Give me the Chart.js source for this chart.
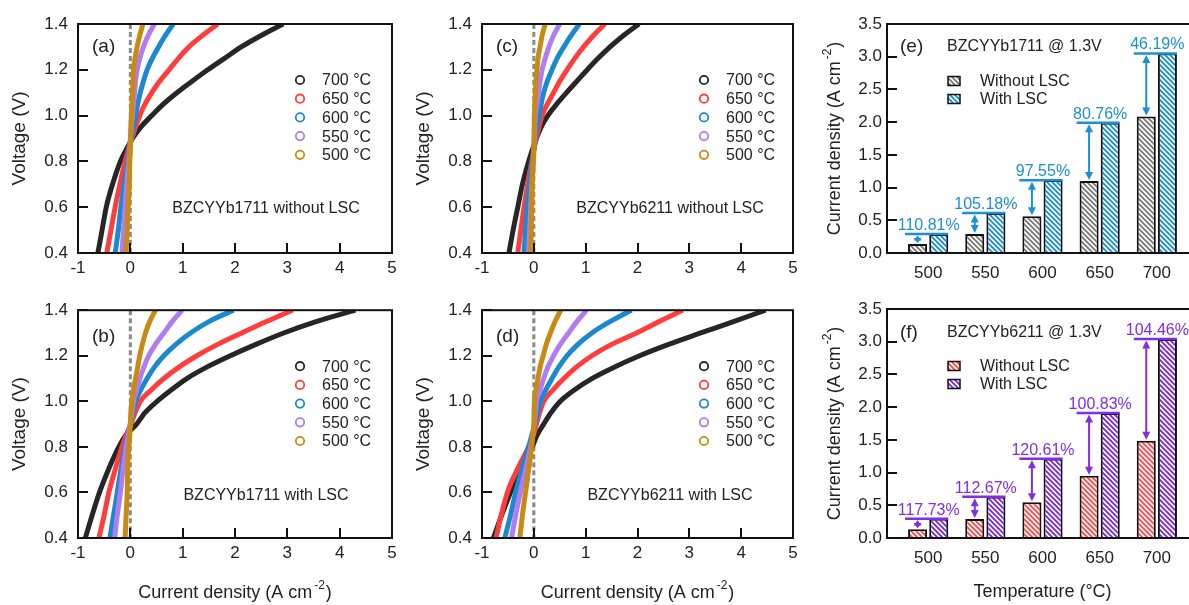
<!DOCTYPE html>
<html lang="en">
<head>
<meta charset="UTF-8">
<title>I-V curves and current density at 1.3 V</title>
<script src="https://cdn.jsdelivr.net/npm/chart.js"></script>
<style>
    body {
        margin: 0;
        width: 1189px;
        height: 605px;
        overflow: hidden;
        background: #fff;
        position: relative;
    }
    canvas {
        position: absolute;
    }
</style>
</head>
<body>

<canvas id="pa" width="404" height="290" style="left:0;top:0"></canvas>
<canvas id="pc" width="401" height="290" style="left:404px;top:0"></canvas>
<canvas id="pe" width="410" height="290" style="left:800px;top:0"></canvas>
<canvas id="pb" width="404" height="315" style="left:0;top:290px"></canvas>
<canvas id="pd" width="401" height="315" style="left:404px;top:290px"></canvas>
<canvas id="pf" width="410" height="315" style="left:800px;top:290px"></canvas>

<script>
// ---- data ----
const voltage = [0.4, 0.5, 0.6, 0.7, 0.8, 0.85, 0.9, 0.95, 1.0, 1.05, 1.1, 1.15, 1.2, 1.25, 1.3, 1.35, 1.4];
const tempLabels = ['700 °C', '650 °C', '600 °C', '550 °C', '500 °C'];
const ivXTicks = [-1, 0, 1, 2, 3, 4, 5];
const ivYTicks = [0.4, 0.6, 0.8, 1.0, 1.2, 1.4];

// (a) BZCYYb1711 without LSC, current density at each voltage
const a700 = [-0.62, -0.54, -0.46, -0.34, -0.19, -0.08, 0.04, 0.2, 0.41, 0.63, 0.89, 1.18, 1.48, 1.8, 2.12, 2.5, 2.92];
const a650 = [-0.45, -0.37, -0.29, -0.2, -0.1, -0.04, 0.03, 0.1, 0.18, 0.28, 0.41, 0.56, 0.74, 0.92, 1.12, 1.38, 1.67];
const a600 = [-0.29, -0.23, -0.18, -0.12, -0.05, -0.02, 0.02, 0.06, 0.1, 0.14, 0.19, 0.25, 0.32, 0.42, 0.54, 0.67, 0.82];
const a550 = [-0.16, -0.13, -0.1, -0.07, -0.03, -0.01, 0.0, 0.02, 0.04, 0.06, 0.08, 0.1, 0.13, 0.18, 0.25, 0.34, 0.46];
const a500 = [-0.08, -0.06, -0.04, -0.02, -0.01, 0.0, 0.005, 0.01, 0.02, 0.03, 0.04, 0.05, 0.06, 0.09, 0.13, 0.18, 0.24];

// (b) BZCYYb1711 with LSC
const b700 = [-0.86, -0.73, -0.59, -0.42, -0.22, -0.09, 0.12, 0.28, 0.51, 0.78, 1.08, 1.46, 1.91, 2.4, 2.93, 3.55, 4.3];
const b650 = [-0.6, -0.5, -0.41, -0.29, -0.16, -0.08, 0.01, 0.09, 0.19, 0.4, 0.64, 0.93, 1.27, 1.67, 2.13, 2.6, 3.1];
const b600 = [-0.39, -0.32, -0.25, -0.18, -0.1, -0.05, 0.0, 0.05, 0.1, 0.2, 0.32, 0.46, 0.64, 0.87, 1.15, 1.5, 1.97];
const b550 = [-0.3, -0.25, -0.19, -0.14, -0.08, -0.04, 0.0, 0.03, 0.06, 0.12, 0.18, 0.26, 0.35, 0.48, 0.64, 0.8, 0.99];
const b500 = [-0.1, -0.08, -0.06, -0.05, -0.03, -0.01, 0.0, 0.01, 0.03, 0.06, 0.1, 0.14, 0.18, 0.23, 0.29, 0.37, 0.48];

// (c) BZCYYb6211 without LSC
const c700 = [-0.48, -0.4, -0.31, -0.22, -0.1, -0.03, 0.05, 0.14, 0.27, 0.44, 0.63, 0.83, 1.03, 1.24, 1.47, 1.73, 2.03];
const c650 = [-0.31, -0.25, -0.19, -0.12, -0.04, 0.0, 0.05, 0.1, 0.16, 0.26, 0.38, 0.5, 0.64, 0.79, 0.96, 1.15, 1.37];
const c600 = [-0.19, -0.16, -0.13, -0.08, -0.03, 0.0, 0.03, 0.06, 0.1, 0.14, 0.19, 0.26, 0.35, 0.45, 0.58, 0.72, 0.88];
const c550 = [-0.1, -0.08, -0.06, -0.04, -0.01, 0.0, 0.01, 0.02, 0.03, 0.06, 0.09, 0.12, 0.16, 0.22, 0.29, 0.38, 0.5];
const c500 = [-0.06, -0.05, -0.04, -0.03, -0.01, 0.0, 0.003, 0.006, 0.01, 0.02, 0.03, 0.04, 0.06, 0.08, 0.12, 0.16, 0.22];

// (d) BZCYYb6211 with LSC
const d700 = [-0.78, -0.62, -0.45, -0.25, -0.03, 0.06, 0.19, 0.33, 0.51, 0.78, 1.12, 1.55, 2.04, 2.6, 3.22, 3.85, 4.47];
const d650 = [-0.73, -0.63, -0.51, -0.32, -0.1, -0.01, 0.05, 0.11, 0.19, 0.37, 0.58, 0.82, 1.12, 1.5, 1.98, 2.42, 2.87];
const d600 = [-0.56, -0.45, -0.35, -0.23, -0.1, -0.04, 0.02, 0.07, 0.13, 0.23, 0.35, 0.48, 0.64, 0.85, 1.12, 1.47, 1.88];
const d550 = [-0.43, -0.35, -0.26, -0.16, -0.06, -0.02, 0.01, 0.03, 0.05, 0.12, 0.19, 0.27, 0.38, 0.51, 0.67, 0.83, 1.02];
const d500 = [-0.27, -0.22, -0.16, -0.1, -0.04, -0.02, 0.0, 0.005, 0.01, 0.04, 0.08, 0.12, 0.18, 0.24, 0.32, 0.41, 0.52];

// (e)/(f) current density at 1.3 V
const temps = [500, 550, 600, 650, 700];
const barYTicks = [0, 0.5, 1.0, 1.5, 2.0, 2.5, 3.0, 3.5];
const eWithout = [0.138, 0.29, 0.56, 1.1, 2.086];
const eWith = [0.29, 0.61, 1.11, 1.99, 3.05];
const ePct = ['110.81%', '105.18%', '97.55%', '80.76%', '46.19%'];
const fWithout = [0.135, 0.29, 0.548, 0.951, 1.487];
const fWith = [0.295, 0.63, 1.21, 1.91, 3.04];
const fPct = ['117.73%', '112.67%', '120.61%', '100.83%', '104.46%'];

// ---- styling ----
const FONT = '"Liberation Sans", Arial, Helvetica, sans-serif';
Chart.defaults.font.family = FONT;
Chart.defaults.color = '#222';

const seriesColors = ['#262626', '#ff3d3d', '#1c88d0', '#b07cf0', '#c98a12'];

// diagonal hatch fill for bars
function hatch(color) {
    const s = 5;
    const c = document.createElement('canvas');
    c.width = s; c.height = s;
    const g = c.getContext('2d');
    g.fillStyle = '#fff';
    g.fillRect(0, 0, s, s);
    g.strokeStyle = color;
    g.lineWidth = 1.9;
    g.beginPath();
    for (const k of [-s, 0, s]) {
        g.moveTo(k - 1, -1);
        g.lineTo(k + s + 1, s + 1);
    }
    g.stroke();
    return g.createPattern(c, 'repeat');
}

// per-canvas extras drawn by the plugin
const decorations = {
    pa: { kind: 'iv', label: '(a)', labelY: 23, note: 'BZCYYb1711 without LSC' },
    pc: { kind: 'iv', label: '(c)', labelY: 23, note: 'BZCYYb6211 without LSC' },
    pb: { kind: 'iv', label: '(b)', labelY: 27, note: 'BZCYYb1711 with LSC', xTitle: true },
    pd: { kind: 'iv', label: '(d)', labelY: 27, note: 'BZCYYb6211 with LSC', xTitle: true },
    pe: { kind: 'bar', label: '(e)', note: 'BZCYYb1711 @ 1.3V', noteY: 23, pct: ePct, pctColor: '#1a8fd6',
          fills: [hatch('#7a7a7a'), hatch('#1a8fd6')] },
    pf: { kind: 'bar', label: '(f)', note: 'BZCYYb6211 @ 1.3V', noteY: 24, pct: fPct, pctColor: '#7f2ee6',
          fills: [hatch('#ff4a4a'), hatch('#7a2be2')], xTitle: true }
};

function currentTitle(ctx, x, y, rotated) {
    ctx.save();
    ctx.translate(x, y);
    if (rotated) ctx.rotate(-Math.PI / 2);
    ctx.fillStyle = '#222';
    ctx.textBaseline = 'alphabetic';
    ctx.textAlign = 'left';
    const main = 'Current density (A cm';
    ctx.font = '18px ' + FONT;
    const w1 = ctx.measureText(main).width;
    const w3 = ctx.measureText(')').width;
    ctx.font = '12px ' + FONT;
    const w2 = ctx.measureText('-2').width;
    let cx = -(w1 + w2 + w3 + 3) / 2;
    ctx.font = '18px ' + FONT;
    ctx.fillText(main, cx, 0);
    cx += w1 + 2;
    ctx.font = '12px ' + FONT;
    ctx.fillText('-2', cx, -9);
    cx += w2 + 1;
    ctx.font = '18px ' + FONT;
    ctx.fillText(')', cx, 0);
    ctx.restore();
}

function arrowHead(ctx, x, y, dir, len) {
    ctx.beginPath();
    ctx.moveTo(x, y);
    ctx.lineTo(x - 4, y + dir * len);
    ctx.lineTo(x + 4, y + dir * len);
    ctx.closePath();
    ctx.fill();
}

const decor = {
    id: 'decor',
    beforeDatasetsDraw(chart) {
        const d = decorations[chart.canvas.id];
        if (!d || d.kind !== 'iv') return;
        const ctx = chart.ctx, a = chart.chartArea;
        const x0 = chart.scales.x.getPixelForValue(0);
        ctx.save();
        ctx.strokeStyle = '#8a8a8a';
        ctx.lineWidth = 3;
        ctx.setLineDash([5, 3]);
        ctx.beginPath();
        ctx.moveTo(x0, a.top);
        ctx.lineTo(x0, a.bottom);
        ctx.stroke();
        ctx.restore();
    },
    afterDatasetsDraw(chart) {
        const d = decorations[chart.canvas.id];
        if (!d) return;
        const ctx = chart.ctx, a = chart.chartArea;
        const xs = chart.scales.x, ys = chart.scales.y;
        ctx.save();

        // inward tick marks and frame
        ctx.strokeStyle = '#111';
        ctx.lineWidth = 2;
        ctx.beginPath();
        ys.ticks.forEach(t => {
            const p = Math.round(ys.getPixelForValue(t.value));
            ctx.moveTo(a.left, p);
            ctx.lineTo(a.left + 10, p);
        });
        if (d.kind === 'iv') {
            xs.ticks.forEach(t => {
                const p = Math.round(xs.getPixelForValue(t.value));
                ctx.moveTo(p, a.bottom);
                ctx.lineTo(p, a.bottom - 10);
            });
        }
        ctx.stroke();
        ctx.strokeRect(a.left, a.top, a.right - a.left, a.bottom - a.top);

        ctx.fillStyle = '#222';
        ctx.textBaseline = 'middle';
        const midY = (a.top + a.bottom) / 2;

        if (d.kind === 'iv') {
            ctx.font = '19px ' + FONT;
            ctx.textAlign = 'left';
            ctx.fillText(d.label, a.left + 14, a.top + d.labelY);

            ctx.font = '16px ' + FONT;
            ctx.textAlign = 'center';
            ctx.fillText(d.note, a.left + 188, a.top + 185);

            // legend
            tempLabels.forEach((lab, i) => {
                const ly = a.top + 56 + i * 18.7;
                ctx.beginPath();
                ctx.arc(a.left + 222, ly, 4.2, 0, Math.PI * 2);
                ctx.strokeStyle = seriesColors[i];
                ctx.lineWidth = 1.8;
                ctx.stroke();
                ctx.fillStyle = '#222';
                ctx.textAlign = 'left';
                ctx.fillText(lab, a.left + 244, ly + 1);
            });

            // y title
            ctx.save();
            ctx.translate(20, midY);
            ctx.rotate(-Math.PI / 2);
            ctx.font = '19px ' + FONT;
            ctx.textAlign = 'center';
            ctx.fillText('Voltage (V)', 0, 0);
            ctx.restore();

            if (d.xTitle) currentTitle(ctx, (a.left + a.right) / 2, chart.height - 7, false);
        } else {
            ctx.font = '19px ' + FONT;
            ctx.textAlign = 'left';
            ctx.fillText(d.label, a.left + 13, a.top + d.noteY);
            ctx.font = '16px ' + FONT;
            ctx.fillText(d.note, a.left + 60, a.top + d.noteY);

            // legend
            ['Without LSC', 'With LSC'].forEach((lab, i) => {
                const ly = a.top + 57 + i * 18;
                ctx.fillStyle = d.fills[i];
                ctx.fillRect(a.left + 61, ly - 4.5, 12, 9);
                ctx.strokeStyle = '#111';
                ctx.lineWidth = 1.5;
                ctx.strokeRect(a.left + 61, ly - 4.5, 12, 9);
                ctx.fillStyle = '#222';
                ctx.fillText(lab, a.left + 93, ly + 1);
            });

            // percent gain arrows
            const m0 = chart.getDatasetMeta(0).data;
            const m1 = chart.getDatasetMeta(1).data;
            ctx.strokeStyle = d.pctColor;
            ctx.fillStyle = d.pctColor;
            m0.forEach((b0, i) => {
                const b1 = m1[i];
                const lineY = b1.y;
                const x1 = b0.x - b0.width / 2 - 3;
                const x2 = b1.x + b1.width / 2;
                ctx.lineWidth = 2.5;
                ctx.beginPath();
                ctx.moveTo(x1, lineY);
                ctx.lineTo(x2, lineY);
                ctx.stroke();
                const gap = b0.y - lineY;
                const hl = Math.min(8, gap / 2);
                ctx.lineWidth = 2;
                ctx.beginPath();
                ctx.moveTo(b0.x, lineY + hl);
                ctx.lineTo(b0.x, b0.y - hl);
                ctx.stroke();
                arrowHead(ctx, b0.x, lineY + 1.5, 1, hl);
                arrowHead(ctx, b0.x, b0.y - 1, -1, hl);
                ctx.font = '16px ' + FONT;
                ctx.textAlign = 'center';
                ctx.textBaseline = 'alphabetic';
                ctx.fillText(d.pct[i], (x1 + x2) / 2 + 2, lineY - 4);
                ctx.textBaseline = 'middle';
            });

            ctx.fillStyle = '#222';
            currentTitle(ctx, 40, midY, true);
            if (d.xTitle) {
                ctx.font = '18px ' + FONT;
                ctx.textAlign = 'center';
                ctx.textBaseline = 'alphabetic';
                ctx.fillText('Temperature (°C)', (a.left + a.right) / 2, chart.height - 8);
            }
        }
        ctx.restore();
    }
};

function ivChart(id, curves, padTop, xAxisH) {
    const datasets = curves.map((c, i) => ({
        label: tempLabels[i],
        data: voltage.map((v, k) => ({ x: c[k], y: v })),
        showLine: true,
        borderColor: seriesColors[i],
        backgroundColor: seriesColors[i],
        borderWidth: 5,
        pointRadius: 0,
        cubicInterpolationMode: 'monotone',
        order: 5 - i
    }));
    return new Chart(document.getElementById(id), {
        type: 'scatter',
        data: { datasets },
        options: {
            responsive: false,
            animation: false,
            events: [],
            layout: { padding: { top: padTop, right: 12, left: 0, bottom: 0 } },
            plugins: { legend: { display: false }, tooltip: { enabled: false } },
            scales: {
                x: {
                    type: 'linear', min: -1, max: 5,
                    afterBuildTicks: s => { s.ticks = ivXTicks.map(v => ({ value: v })); },
                    grid: { display: false, drawTicks: false },
                    border: { display: false },
                    ticks: { font: { size: 17 }, color: '#222', padding: 5 },
                    afterFit: s => { s.height = xAxisH; }
                },
                y: {
                    type: 'linear', min: 0.4, max: 1.4,
                    afterBuildTicks: s => { s.ticks = ivYTicks.map(v => ({ value: v })); },
                    grid: { display: false, drawTicks: false },
                    border: { display: false },
                    ticks: { font: { size: 17 }, color: '#222', padding: 10, callback: v => v.toFixed(1) },
                    afterFit: s => { s.width = 78; }
                }
            }
        },
        plugins: [decor]
    });
}

function barChart(id, without, withv, padTop, xAxisH) {
    const fills = decorations[id].fills;
    const common = { borderColor: '#111', borderWidth: 2, categoryPercentage: 0.74, barPercentage: 0.9 };
    return new Chart(document.getElementById(id), {
        type: 'bar',
        data: {
            datasets: [
                Object.assign({ label: 'Without LSC', data: temps.map((t, i) => ({ x: t, y: without[i] })), backgroundColor: fills[0] }, common),
                Object.assign({ label: 'With LSC', data: temps.map((t, i) => ({ x: t, y: withv[i] })), backgroundColor: fills[1] }, common)
            ]
        },
        options: {
            responsive: false,
            animation: false,
            events: [],
            layout: { padding: { top: padTop, right: 12, left: 0, bottom: 0 } },
            plugins: { legend: { display: false }, tooltip: { enabled: false } },
            scales: {
                x: {
                    type: 'linear', min: 464, max: 736, offset: false,
                    afterBuildTicks: s => { s.ticks = temps.map(v => ({ value: v })); },
                    grid: { display: false, drawTicks: false },
                    border: { display: false },
                    ticks: { font: { size: 17 }, color: '#222', padding: 10, callback: v => String(v) },
                    afterFit: s => { s.height = xAxisH; }
                },
                y: {
                    type: 'linear', min: 0, max: 3.5,
                    afterBuildTicks: s => { s.ticks = barYTicks.map(v => ({ value: v })); },
                    grid: { display: false, drawTicks: false },
                    border: { display: false },
                    ticks: { font: { size: 17 }, color: '#222', padding: 5, callback: v => v.toFixed(1) },
                    afterFit: s => { s.width = 87; }
                }
            }
        },
        plugins: [decor]
    });
}

ivChart('pa', [a700, a650, a600, a550, a500], 24, 37);
ivChart('pc', [c700, c650, c600, c550, c500], 24, 37);
ivChart('pb', [b700, b650, b600, b550, b500], 19, 67);
ivChart('pd', [d700, d650, d600, d550, d500], 19, 67);
barChart('pe', eWithout, eWith, 24, 37);
barChart('pf', fWithout, fWith, 19, 67);
</script>

</body>
</html>
